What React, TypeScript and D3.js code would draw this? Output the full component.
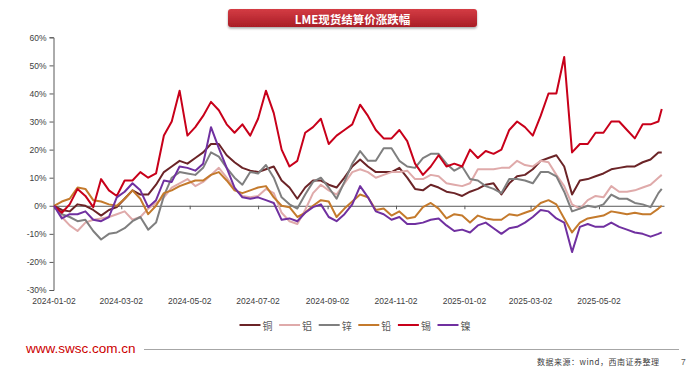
import React, { useEffect, useRef } from 'react';
import * as d3 from 'd3';

/**
 * LME spot settlement price change since 2024-01-02, six base metals.
 * Weekly readings (%), last point is the final trading day shown.
 */
const seriesNames = ['铜', '铝', '锌', '铅', '锡', '镍'];
const seriesColors = ['#6b2427', '#dfaaaa', '#7f7f7f', '#c47a2c', '#c8001a', '#7030a0'];

const copper = [
    0, -1.5, -2, 0.5, 0, -1.5, -3.5, -1.5, -0.5, 2.5, 5.5, 4, 4, 7.5, 12, 14, 16, 15, 17, 19, 22, 22, 18, 15.5, 13.5,
    12.5, 12, 13, 14, 9, 6.5, 2.5, 6.5, 9, 9, 7.5, 6.5, 10, 14, 16.5, 14, 12, 12, 12, 13.5, 10, 6, 5.5, 7.5, 6.5,
    5, 4.5, 3.5, 5, 6, 7.5, 8, 4, 8, 10.5, 11, 13, 16, 17, 18, 14, 4, 9, 9.5, 10.5, 11.5, 13, 13.5, 14, 14, 15.5, 16.5, 19, 19
];
const aluminium = [
    0, -4, -7, -9, -6, -5, -4.5, -4, -3, -2, -5, -4, -1, 1, 3, 6.5, 8, 9.5, 7, 8.5, 11, 13.5, 10, 6, 3.5,
    3, 3.5, 6, 4.5, -2.5, -5.5, -6.5, -1.5, 4.5, 7.5, 5.5, 4, 8, 12, 13, 12, 10, 11, 12, 12, 12.5, 9.5, 9.5, 11, 10.5,
    8, 7.5, 7, 8, 13, 13, 13, 13.5, 13.5, 16, 14.5, 14, 16, 15.5, 11, 7, 0.5, -1, 2, 3.5, 3, 7, 5, 5, 5.5, 6.5, 7.5, 10, 11
];
const zinc = [
    0, -3, -4, -5.5, -5, -9, -12, -10, -9.5, -8, -5.5, -4, -8.5, -6, 3.5, 10, 12, 11.5, 11, 13.5, 19, 17.5, 13.5, 10, 7.5,
    12, 11.5, 14.5, 10, 3, 0.5, -1, 4, 8.5, 10, 6.5, 2.5, 8.5, 15, 19.5, 16, 16, 20.5, 20.5, 16, 14, 13.5, 17, 18.5, 18.5,
    15, 12.5, 14, 9.5, 9, 7, 6, 4.5, 9.5, 9.5, 9, 8, 12, 12, 10.5, 5, -2, -1, 0, -0.5, 0.5, 4, 2.5, 2.5, 1, 0.5, -0.5, 4.5, 6
];
const lead = [
    0, 1.5, 2.5, 6.5, 6, 2, 1.5, 0.5, 0, 2.5, 5.5, 2.5, -3, 0, 4.5, 5.5, 7, 8, 9, 9, 11, 12, 9, 5.5, 4.5,
    5.5, 6.5, 7, 3, 0, -0.5, -4, -2.5, 0, 2, 1.5, -4, -1, 1.5, 4, 3, -1.5, -1, -3.5, -2, -4.5, -4, -0.5, 1, -1,
    -4.5, -3, -3.5, -6, -3.5, -4.5, -5, -5, -3, -3.5, -2.5, -1.5, 1, 2, 0.5, -4.5, -9.5, -6, -4.5, -4, -3.5, -2, -2.5, -3, -2.5, -3, -3, -1, 0
];
const tin = [
    0, -2.5, 0.5, 6, 3.5, -0.5, 9.5, 5.5, 3.5, 9, 9, 12, 10, 11.5, 25, 30, 41, 25, 28, 32, 37, 34, 29, 26, 29,
    25, 31, 41, 33, 20, 14, 16, 26, 28, 31, 22, 25, 27, 29, 36, 32, 27, 24, 24, 27, 23, 15, 11, 14, 18,
    14, 15, 14, 20, 17, 19.5, 18.5, 20, 27, 30, 28, 25, 32, 40, 40, 53, 19, 22, 22, 26, 26, 30, 30, 27, 24, 29, 29, 30, 34.5
];
const nickel = [
    0, -4.5, -3, -3, -2, -5, -5.5, -4, 3, 5, 8, 5.5, -0.5, 2, 9, 8.5, 14, 13.5, 12.5, 15, 28, 20.5, 13.5, 6.5, 3,
    2.5, 3, 2, 1, -5, -4.5, -5.5, -2.5, -0.5, 0.5, -4, -5.5, -3, 0.5, 7, 3, -2, -3, -5, -4, -6.5, -6.5, -6, -5, -4.5,
    -7, -9, -8.5, -9.5, -7, -6, -8, -10, -8, -7.5, -6, -4, -1.5, -2, -4.5, -6, -16.5, -7.5, -6.5, -7.5, -7.5, -6, -7.5, -8.5, -9.5, -10, -11, -10, -9.5
];

const firstDate = '2024-01-02';
const lastDate = '2025-06-27';
const axisEndDate = '2025-06-29';
const xTickLabels = ['2024-01-02', '2024-03-02', '2024-05-02', '2024-07-02', '2024-09-02', '2024-11-02', '2025-01-02', '2025-03-02', '2025-05-02'];
const yTicks = [60, 50, 40, 30, 20, 10, 0, -10, -20, -30];

const parse = d3.utcParse('%Y-%m-%d');

const App = () => {
    const svgRef = useRef(null);

    useEffect(() => {
        const width = 692;
        const height = 370;
        const svg = d3.select(svgRef.current);
        svg.selectAll('*').remove();

        const allSeries = [copper, aluminium, zinc, lead, tin, nickel];
        const start = parse(firstDate);
        // weekly readings, the last one on the final date
        const dates = copper.map((_, i) =>
            i === copper.length - 1 ? parse(lastDate) : d3.utcDay.offset(start, 7 * i)
        );

        const x = d3.scaleUtc()
            .domain([start, parse(axisEndDate)])
            .range([54, 664]);
        const y = d3.scaleLinear()
            .domain([-30, 60])
            .range([290, 37.3]);

        const axisColor = '#595959';
        const font = '"Liberation Sans", Arial, sans-serif';
        const cjk = '"Noto Sans CJK SC", sans-serif';

        // Title banner
        const defs = svg.append('defs');
        const grad = defs.append('linearGradient')
            .attr('id', 'titleGrad')
            .attr('x1', 0).attr('y1', 0).attr('x2', 0).attr('y2', 1);
        grad.append('stop').attr('offset', '0%').attr('stop-color', '#d43c44');
        grad.append('stop').attr('offset', '100%').attr('stop-color', '#a91d26');
        const shadow = defs.append('filter').attr('id', 'titleShadow')
            .attr('x', '-5%').attr('y', '-30%').attr('width', '110%').attr('height', '180%');
        shadow.append('feDropShadow')
            .attr('dx', 0).attr('dy', 1.5).attr('stdDeviation', 1.2)
            .attr('flood-color', '#000').attr('flood-opacity', 0.35);

        svg.append('rect')
            .attr('x', 228).attr('y', 9)
            .attr('width', 249).attr('height', 18)
            .attr('rx', 3)
            .attr('fill', 'url(#titleGrad)')
            .attr('filter', 'url(#titleShadow)');
        svg.append('text')
            .attr('x', 352.5).attr('y', 18.5)
            .attr('text-anchor', 'middle')
            .attr('dominant-baseline', 'central')
            .attr('fill', '#fff')
            .attr('font-family', cjk)
            .attr('font-size', '11.5px')
            .attr('font-weight', 700)
            .text('LME现货结算价涨跌幅');

        // Y axis
        const yAxis = svg.append('g')
            .attr('transform', 'translate(53.5,0)')
            .call(d3.axisLeft(y).tickValues(yTicks).tickSize(4).tickPadding(3).tickFormat(d => `${d}%`));
        yAxis.select('.domain').attr('stroke', axisColor);
        yAxis.selectAll('.tick line').attr('stroke', axisColor);
        yAxis.selectAll('text')
            .attr('fill', '#404040')
            .attr('font-family', font)
            .attr('font-size', '8.5px');

        // X axis along the zero line
        const tickDates = xTickLabels.map(parse);
        const xAxis = svg.append('g')
            .attr('transform', `translate(0,${y(0)})`)
            .call(d3.axisBottom(x).tickValues(tickDates).tickSize(3.5).tickSizeOuter(0).tickFormat(() => ''));
        xAxis.select('.domain').attr('stroke', axisColor);
        xAxis.selectAll('.tick line').attr('stroke', axisColor);

        svg.append('g')
            .selectAll('text')
            .data(tickDates)
            .enter()
            .append('text')
            .attr('x', d => x(d))
            .attr('y', 301)
            .attr('text-anchor', 'middle')
            .attr('dominant-baseline', 'central')
            .attr('fill', '#404040')
            .attr('font-family', font)
            .attr('font-size', '8.5px')
            .text((d, i) => xTickLabels[i]);

        // Lines
        const line = d3.line()
            .x((d, i) => x(dates[i]))
            .y(d => y(d));

        svg.append('g')
            .selectAll('path')
            .data(allSeries)
            .enter()
            .append('path')
            .attr('d', d => line(d))
            .attr('fill', 'none')
            .attr('stroke', (d, i) => seriesColors[i])
            .attr('stroke-width', 2)
            .attr('stroke-linejoin', 'round');

        // Legend
        const legend = svg.append('g');
        seriesNames.forEach((name, i) => {
            const lx = 239.5 + i * 39.6;
            legend.append('line')
                .attr('x1', lx).attr('x2', lx + 21)
                .attr('y1', 325).attr('y2', 325)
                .attr('stroke', seriesColors[i])
                .attr('stroke-width', 2);
            legend.append('text')
                .attr('x', lx + 23).attr('y', 325)
                .attr('dominant-baseline', 'central')
                .attr('fill', '#595959')
                .attr('font-family', cjk)
                .attr('font-size', '10px')
                .text(name);
        });

        // Footer
        svg.append('text')
            .attr('x', 26).attr('y', 353)
            .attr('fill', '#cc0000')
            .attr('font-family', font)
            .attr('font-size', '13.5px')
            .text('www.swsc.com.cn');
        svg.append('line')
            .attr('x1', 144).attr('x2', 679)
            .attr('y1', 349.5).attr('y2', 349.5)
            .attr('stroke', '#a6a6a6')
            .attr('stroke-width', 1.2);
        svg.append('text')
            .attr('x', 537).attr('y', 365)
            .attr('fill', '#404040')
            .attr('font-family', cjk)
            .attr('font-size', '8px')
            .attr('letter-spacing', '0.5px')
            .text('数据来源：wind，西南证券整理');
        svg.append('text')
            .attr('x', 681).attr('y', 365)
            .attr('fill', '#595959')
            .attr('font-family', font)
            .attr('font-size', '8.5px')
            .text('7');

        svg.attr('width', width).attr('height', height);
    }, []);

    return (
        <svg
            ref={svgRef}
            width={692}
            height={370}
            style={{ position: 'absolute', left: 0, top: 0, background: '#fff' }}
        />
    );
};

export default App;
